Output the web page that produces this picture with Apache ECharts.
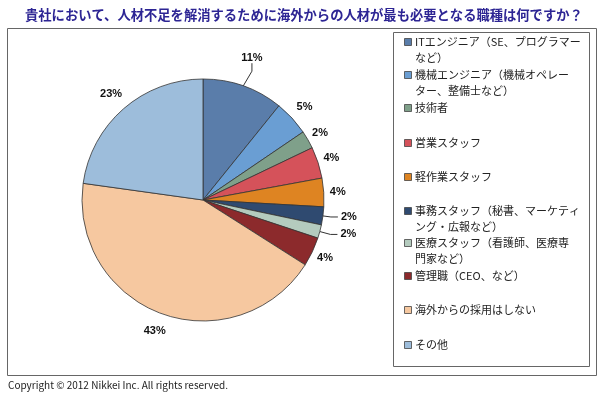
<!DOCTYPE html>
<html>
<head>
<meta charset="utf-8">
<script src="https://cdn.jsdelivr.net/npm/echarts@6/dist/echarts.min.js"></script>
<style>
html,body{margin:0;padding:0;background:#fff;}
#chart{width:600px;height:395px;}
</style>
</head>
<body>
<div id="chart"></div>
<script>
var categories = [
  'ITエンジニア（SE、プログラマーなど）',
  '機械エンジニア（機械オペレーター、整備士など）',
  '技術者',
  '営業スタッフ',
  '軽作業スタッフ',
  '事務スタッフ（秘書、マーケティング・広報など）',
  '医療スタッフ（看護師、医療専門家など）',
  '管理職（CEO、など）',
  '海外からの採用はしない',
  'その他'
];
var legendLabels = [
  'ITエンジニア（SE、プログラマー\nなど）',
  '機械エンジニア（機械オペレー\nター、整備士など）',
  '技術者',
  '営業スタッフ',
  '軽作業スタッフ',
  '事務スタッフ（秘書、マーケティ\nング・広報など）',
  '医療スタッフ（看護師、医療専\n門家など）',
  '管理職（CEO、など）',
  '海外からの採用はしない',
  'その他'
];
// shares (%); labels show them rounded
var values = [10.8, 4.7, 2.4, 4.2, 3.8, 2.4, 1.8, 3.9, 43.2, 22.8];
var colors = ['#5A7DAA', '#6A9ED3', '#7FA08A', '#D5525A', '#DE8422', '#2F4A70', '#B4CBBE', '#8C2A2C', '#F6C8A0', '#9DBDDB'];
var legendTops = [42, 75, 108, 143, 177, 211, 243, 276, 310, 345];

var chart = echarts.init(document.getElementById('chart'));

var legendGraphics = [];
categories.forEach(function (name, i) {
  legendGraphics.push({
    type: 'rect',
    shape: { x: 404.5, y: legendTops[i] - 3.5, width: 7, height: 7 },
    style: { fill: colors[i], stroke: '#444', lineWidth: 0.8 }
  });
  legendGraphics.push({
    type: 'text',
    x: 415,
    y: legendTops[i] - 8,
    style: {
      text: legendLabels[i],
      fontSize: 11,
      lineHeight: 16,
      fill: '#222',
      verticalAlign: 'top',
      fontFamily: '"Noto Sans CJK JP", sans-serif'
    }
  });
});

var lineLen = [14, 17, 14, 14, 14, 8, 11, 14, 19, 19];
var lineLen2 = [8, 0, 0, 0, 0, 7, 7, 0, 0, 0];
var leader = [true, false, false, false, false, true, true, false, false, false];

var data = categories.map(function (name, i) {
  return {
    name: name,
    value: values[i],
    itemStyle: { color: colors[i] },
    labelLine: { show: leader[i], length: lineLen[i], length2: lineLen2[i] },
    label: { distanceToLabelLine: leader[i] ? (i === 0 ? 2 : 3) : 0 }
  };
});

chart.setOption({
  animation: false,
  title: {
    text: '貴社において、人材不足を解消するために海外からの人材が最も必要となる職種は何ですか？',
    left: 20,
    top: 3,
    textStyle: {
      fontSize: 13.3,
      fontWeight: 'bold',
      color: '#2D2594',
      fontFamily: '"Noto Sans CJK JP", sans-serif'
    }
  },
  graphic: [
    { type: 'rect', shape: { x: 7.5, y: 28.5, width: 589, height: 347 }, style: { fill: 'none', stroke: '#666', lineWidth: 1 }, z: -1 },
    { type: 'rect', shape: { x: 393.5, y: 32.5, width: 196, height: 334 }, style: { fill: 'none', stroke: '#666', lineWidth: 1 }, z: -1 },
    { type: 'text', left: 8, top: 380, style: { text: 'Copyright © 2012 Nikkei Inc. All rights reserved.', fontSize: 10, fill: '#222', fontFamily: '"Noto Sans CJK JP", sans-serif' } }
  ].concat(legendGraphics),
  series: [{
    type: 'pie',
    center: [203, 200],
    radius: 121,
    startAngle: 90,
    clockwise: true,
    avoidLabelOverlap: false,
    itemStyle: { borderColor: '#333', borderWidth: 0.8 },
    label: {
      show: true,
      position: 'outside',
      formatter: function (p) { return Math.round(p.value) + '%'; },
      fontSize: 11,
      fontWeight: 'bold',
      color: '#111',
      fontFamily: 'Arial, "Liberation Sans", sans-serif'
    },
    labelLine: { lineStyle: { color: '#333', width: 1 } },
    labelLayout: function (p) {
      if (p.dataIndex === 0) {
        // lift the label above the end of its leader line
        return {
          x: p.labelRect.x - 6,
          y: p.labelRect.y + p.labelRect.height / 2 - 15,
          align: 'center',
          verticalAlign: 'middle'
        };
      }
      if (p.dataIndex === 5 || p.dataIndex === 6) return {};
      return { align: 'center', verticalAlign: 'middle' };
    },
    emphasis: { disabled: true },
    data: data
  }]
});
</script>
</body>
</html>
